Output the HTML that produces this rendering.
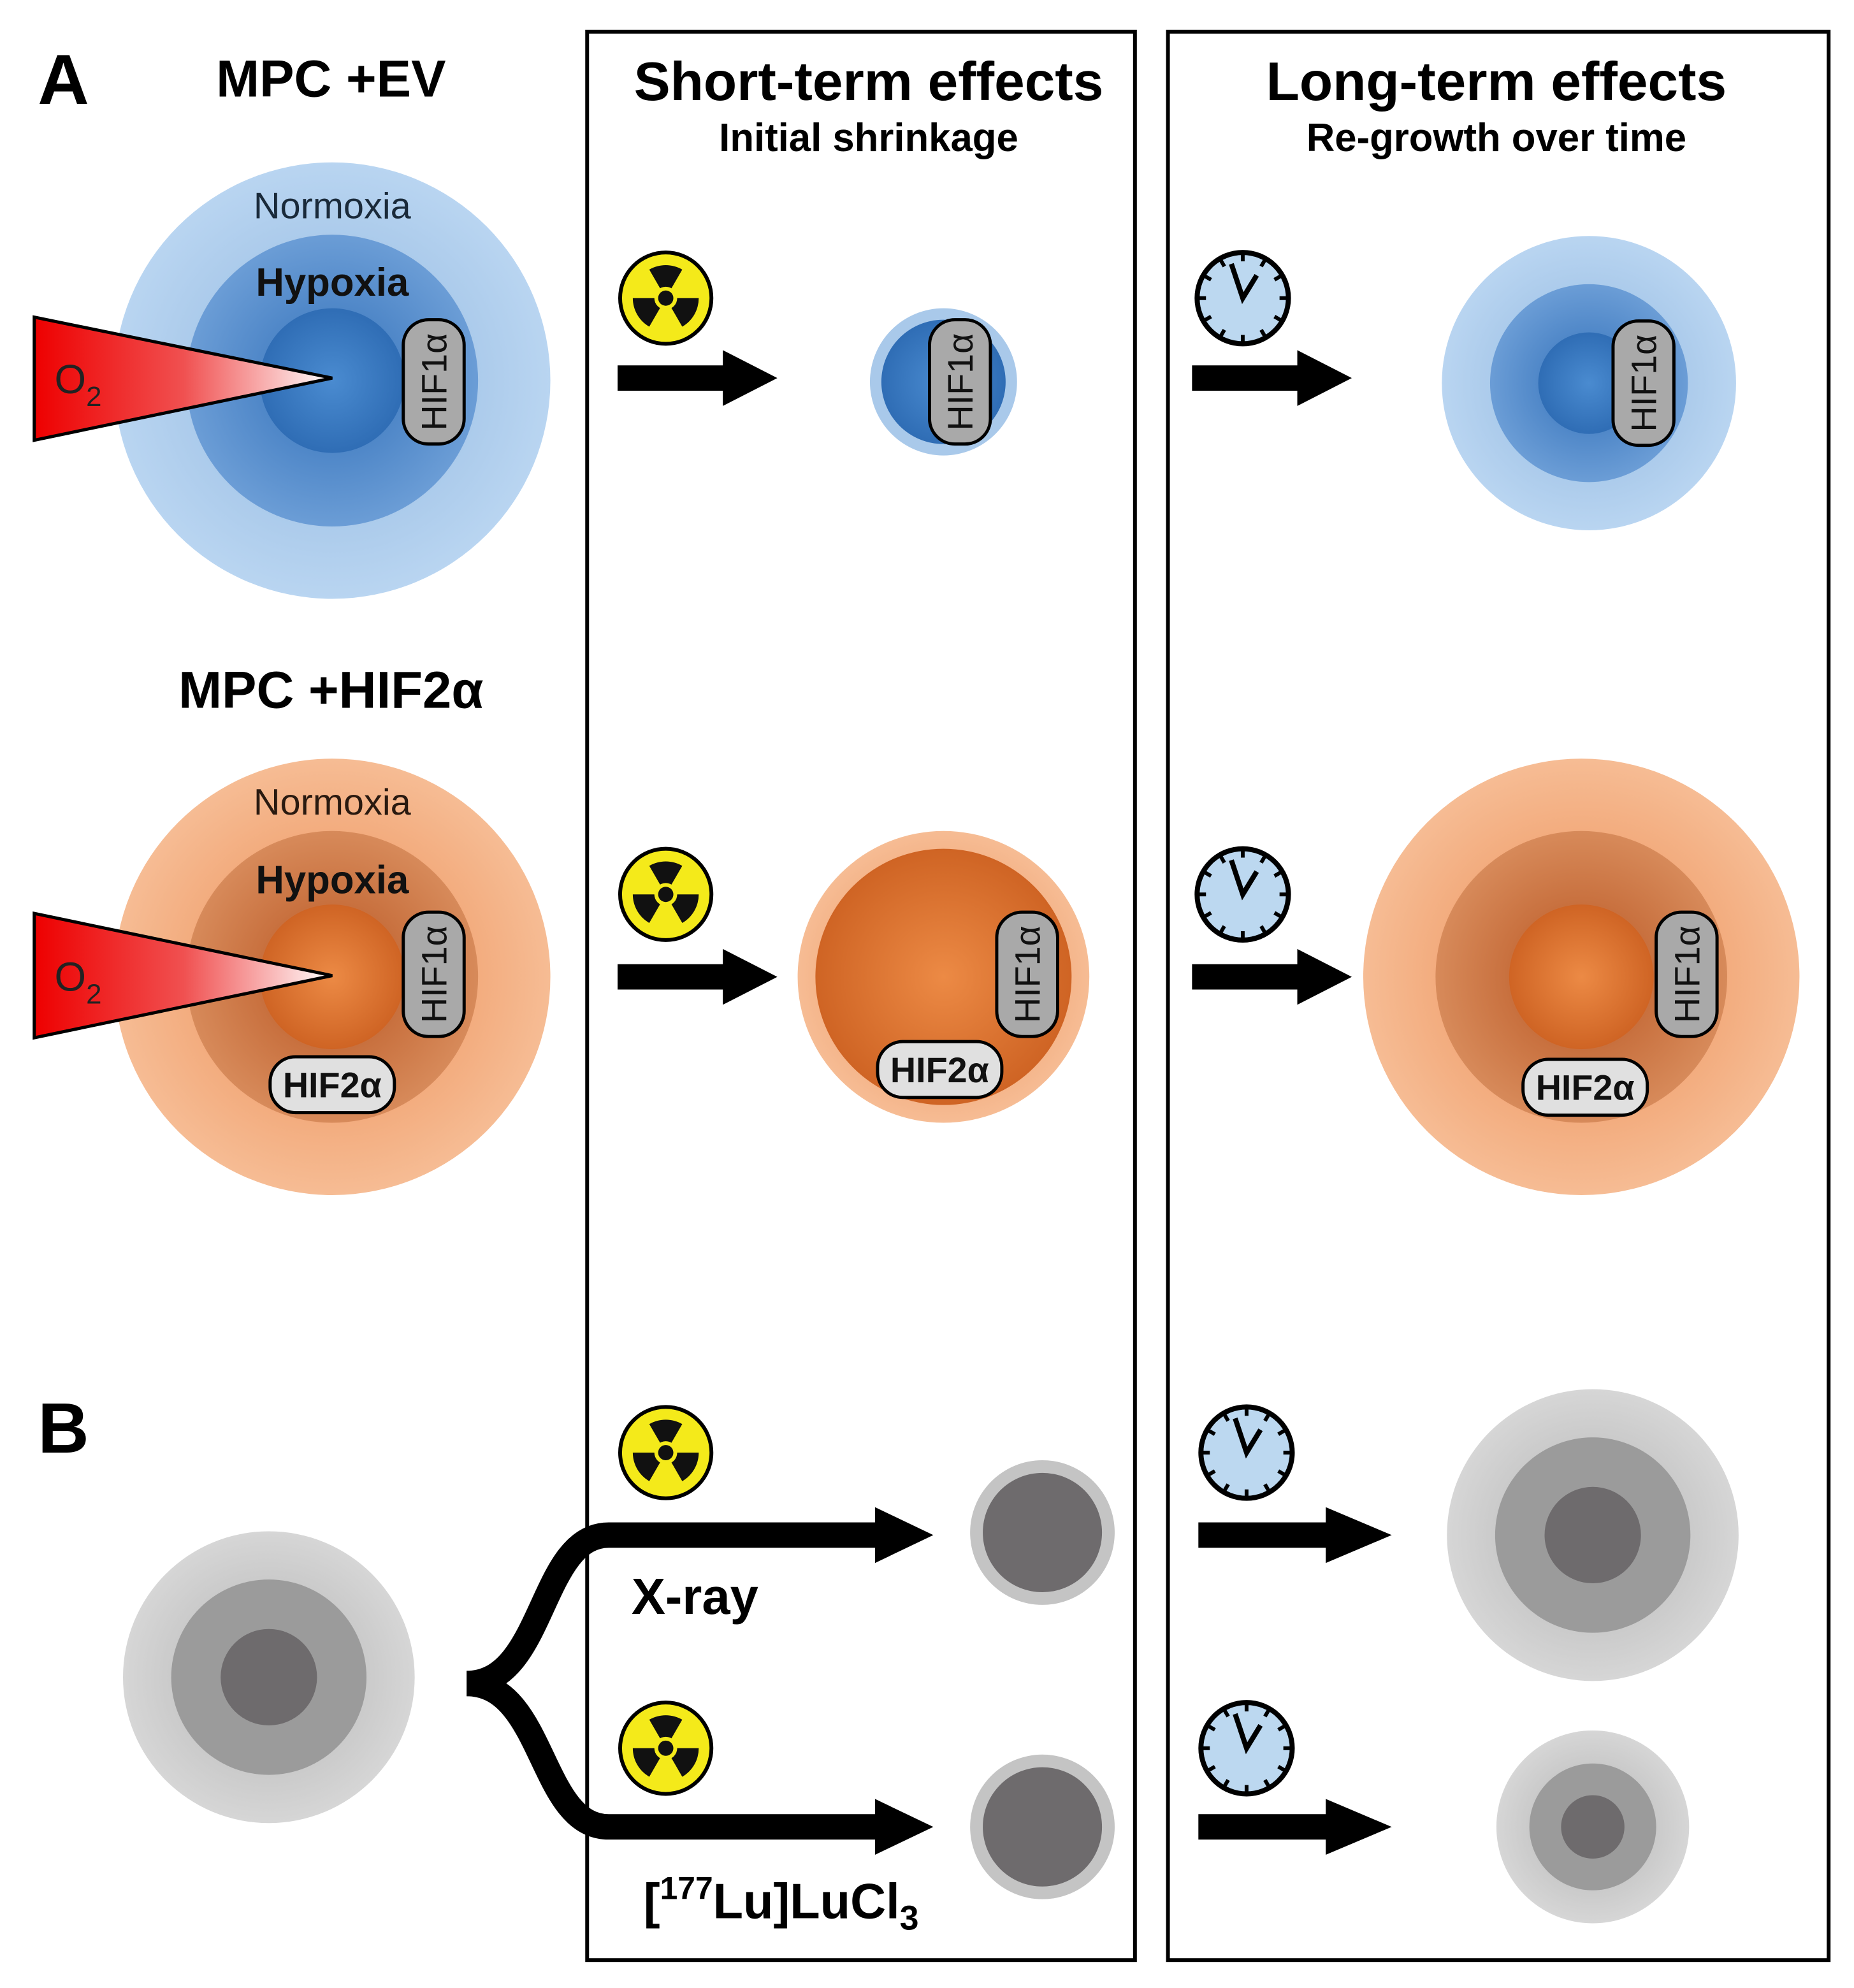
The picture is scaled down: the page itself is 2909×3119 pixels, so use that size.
<!DOCTYPE html>
<html><head><style>html,body{margin:0;padding:0;background:#fff}svg{display:block}</style></head>
<body>
<svg width="2909" height="3119" viewBox="0 0 1462 1567" preserveAspectRatio="none" xmlns="http://www.w3.org/2000/svg" font-family="Liberation Sans, Arial, sans-serif">
<defs>
<radialGradient id="bOut"><stop offset="0.6" stop-color="#a9c9ea"/><stop offset="1" stop-color="#b9d5f1"/></radialGradient>
<radialGradient id="bMid"><stop offset="0.5" stop-color="#4f87c8"/><stop offset="1" stop-color="#6b9dd6"/></radialGradient>
<radialGradient id="bIn"><stop offset="0" stop-color="#4a8bd0"/><stop offset="1" stop-color="#2f6db5"/></radialGradient>
<radialGradient id="oOut"><stop offset="0.6" stop-color="#f2a97a"/><stop offset="1" stop-color="#f6bc94"/></radialGradient>
<radialGradient id="oMid"><stop offset="0.5" stop-color="#c8703e"/><stop offset="1" stop-color="#d78a5a"/></radialGradient>
<radialGradient id="oIn"><stop offset="0" stop-color="#ec8a45"/><stop offset="1" stop-color="#cf6424"/></radialGradient>
<radialGradient id="gOut"><stop offset="0.6" stop-color="#c8c8c8"/><stop offset="1" stop-color="#d6d6d6"/></radialGradient>
<linearGradient id="o2" x1="0" x2="1"><stop offset="0" stop-color="#ee0000"/><stop offset="0.5" stop-color="#f05050"/><stop offset="1" stop-color="#ffffff"/></linearGradient>
<g id="rad"><circle r="36" fill="#f4ea1a" stroke="#000" stroke-width="3"/>
<path d="M0 0 L-13 -22.5 A26 26 0 0 1 13 -22.5 Z M0 0 L26 0 A26 26 0 0 1 13 22.5 Z M0 0 L-13 22.5 A26 26 0 0 1 -26 0 Z" fill="#111"/>
<circle r="9" fill="#f4ea1a"/><circle r="6" fill="#111"/></g>
<g id="clk"><circle r="36" fill="#bcd8f0" stroke="#000" stroke-width="4"/>
<g stroke="#000" stroke-width="3">
<line x1="0" y1="-36" x2="0" y2="-29"/><line x1="0" y1="36" x2="0" y2="29"/><line x1="-36" y1="0" x2="-29" y2="0"/><line x1="36" y1="0" x2="29" y2="0"/>
<line x1="18" y1="-31" x2="14.5" y2="-25"/><line x1="-18" y1="-31" x2="-14.5" y2="-25"/><line x1="18" y1="31" x2="14.5" y2="25"/><line x1="-18" y1="31" x2="-14.5" y2="25"/>
<line x1="31" y1="-18" x2="25" y2="-14.5"/><line x1="-31" y1="-18" x2="-25" y2="-14.5"/><line x1="31" y1="18" x2="25" y2="14.5"/><line x1="-31" y1="18" x2="-25" y2="14.5"/>
</g>
<polyline points="-9,-27 0,0 11,-18" fill="none" stroke="#000" stroke-width="4"/></g>
<g id="hif1"><rect x="-24" y="-49" width="48" height="98" rx="20" fill="#a9a9a9" stroke="#000" stroke-width="2.5"/>
<text transform="rotate(-90)" x="0" y="10" text-anchor="middle" font-size="28" fill="#111">HIF1α</text></g>
<g id="hif2"><rect x="-49" y="-22" width="98" height="44" rx="20" fill="#e0e0e0" stroke="#000" stroke-width="2.5"/>
<text x="0" y="10" text-anchor="middle" font-size="28" font-weight="bold" fill="#111">HIF2α</text></g>
<g id="arr"><polygon points="0,-10 83,-10 83,-22 126,0 83,22 83,10 0,10" fill="#000"/></g>
</defs>
<rect width="1462" height="1567" fill="#fff"/>
<rect x="463" y="25" width="432" height="1520" fill="none" stroke="#000" stroke-width="3"/>
<rect x="921" y="25" width="521" height="1520" fill="none" stroke="#000" stroke-width="3"/>

<text x="50" y="82" text-anchor="middle" font-size="56" font-weight="bold">A</text>
<text x="50" y="1145" text-anchor="middle" font-size="56" font-weight="bold">B</text>
<text x="261" y="76" text-anchor="middle" font-size="41" font-weight="bold">MPC +EV</text>
<text x="261" y="558" text-anchor="middle" font-size="41" font-weight="bold">MPC +HIF2α</text>
<text x="685" y="79" text-anchor="middle" font-size="43" font-weight="bold">Short-term effects</text>
<text x="685" y="119" text-anchor="middle" font-size="31" font-weight="bold">Initial shrinkage</text>
<text x="1180" y="79" text-anchor="middle" font-size="43" font-weight="bold">Long-term effects</text>
<text x="1180" y="119" text-anchor="middle" font-size="31" font-weight="bold">Re-growth over time</text>

<!-- A1 -->
<circle cx="262" cy="300" r="172" fill="url(#bOut)"/>
<circle cx="262" cy="300" r="115" fill="url(#bMid)"/>
<circle cx="262" cy="300" r="57" fill="url(#bIn)"/>
<text x="262" y="172" text-anchor="middle" font-size="29" fill="#1a2a3a">Normoxia</text>
<text x="262" y="233" text-anchor="middle" font-size="31" font-weight="bold" fill="#111">Hypoxia</text>
<use href="#hif1" x="342" y="301"/>
<polygon points="27,250 262,298 27,347" fill="url(#o2)" stroke="#000" stroke-width="2.5"/>
<text x="43" y="310" font-size="32" fill="#222">O<tspan font-size="22" dy="10">2</tspan></text>

<!-- A2 -->
<circle cx="262" cy="770" r="172" fill="url(#oOut)"/>
<circle cx="262" cy="770" r="115" fill="url(#oMid)"/>
<circle cx="262" cy="770" r="57" fill="url(#oIn)"/>
<text x="262" y="642" text-anchor="middle" font-size="29" fill="#2a1a10">Normoxia</text>
<text x="262" y="704" text-anchor="middle" font-size="31" font-weight="bold" fill="#111">Hypoxia</text>
<use href="#hif1" x="342" y="768"/>
<use href="#hif2" x="262" y="855"/>
<polygon points="27,720 262,769 27,818" fill="url(#o2)" stroke="#000" stroke-width="2.5"/>
<text x="43" y="781" font-size="32" fill="#222">O<tspan font-size="22" dy="10">2</tspan></text>

<!-- short-term A -->
<use href="#rad" x="525" y="235"/>
<use href="#arr" x="487" y="298"/>
<circle cx="744" cy="301" r="58" fill="#a9c9ea"/>
<circle cx="744" cy="301" r="49" fill="url(#bIn)"/>
<use href="#hif1" x="757" y="301"/>
<use href="#rad" x="525" y="705"/>
<use href="#arr" x="487" y="770"/>
<circle cx="744" cy="770" r="115" fill="url(#oOut)"/>
<circle cx="744" cy="770" r="101" fill="url(#oIn)"/>
<use href="#hif1" x="810" y="768"/>
<use href="#hif2" x="741" y="843"/>

<!-- long-term A -->
<use href="#clk" x="980" y="235"/>
<use href="#arr" x="940" y="298"/>
<circle cx="1253" cy="302" r="116" fill="url(#bOut)"/>
<circle cx="1253" cy="302" r="78" fill="url(#bMid)"/>
<circle cx="1253" cy="302" r="40" fill="url(#bIn)"/>
<use href="#hif1" x="1296" y="302"/>
<use href="#clk" x="980" y="705"/>
<use href="#arr" x="940" y="770"/>
<circle cx="1247" cy="770" r="172" fill="url(#oOut)"/>
<circle cx="1247" cy="770" r="115" fill="url(#oMid)"/>
<circle cx="1247" cy="770" r="57" fill="url(#oIn)"/>
<use href="#hif1" x="1330" y="768"/>
<use href="#hif2" x="1250" y="857"/>

<!-- B -->
<circle cx="212" cy="1322" r="115" fill="url(#gOut)"/>
<circle cx="212" cy="1322" r="77" fill="#9b9b9b"/>
<circle cx="212" cy="1322" r="38" fill="#6e6b6d"/>
<path d="M368 1327 C430 1327 425 1210 480 1210 L695 1210" fill="none" stroke="#000" stroke-width="20"/>
<path d="M368 1327 C430 1327 425 1440 480 1440 L695 1440" fill="none" stroke="#000" stroke-width="20"/>
<polygon points="690,1188 736,1210 690,1232" fill="#000"/>
<polygon points="690,1418 736,1440 690,1462" fill="#000"/>
<use href="#rad" x="525" y="1145"/>
<use href="#rad" x="525" y="1378"/>
<text x="548" y="1272" text-anchor="middle" font-size="40" font-weight="bold">X-ray</text>
<text x="616" y="1512" text-anchor="middle" font-size="39" font-weight="bold">[<tspan font-size="25" dy="-15">177</tspan><tspan dy="15">Lu]LuCl</tspan><tspan font-size="27" dy="9">3</tspan></text>
<circle cx="822" cy="1208" r="57" fill="#c4c4c4"/>
<circle cx="822" cy="1208" r="47" fill="#6e6b6d"/>
<circle cx="822" cy="1440" r="57" fill="#c4c4c4"/>
<circle cx="822" cy="1440" r="47" fill="#6e6b6d"/>
<use href="#clk" x="983" y="1145"/>
<use href="#clk" x="983" y="1378"/>
<g transform="translate(945 1210) scale(1.21 1)"><use href="#arr"/></g>
<g transform="translate(945 1440) scale(1.21 1)"><use href="#arr"/></g>
<circle cx="1256" cy="1210" r="115" fill="url(#gOut)"/>
<circle cx="1256" cy="1210" r="77" fill="#9b9b9b"/>
<circle cx="1256" cy="1210" r="38" fill="#6e6b6d"/>
<circle cx="1256" cy="1440" r="76" fill="url(#gOut)"/>
<circle cx="1256" cy="1440" r="50" fill="#9b9b9b"/>
<circle cx="1256" cy="1440" r="25" fill="#6e6b6d"/>
</svg>
</body></html>
